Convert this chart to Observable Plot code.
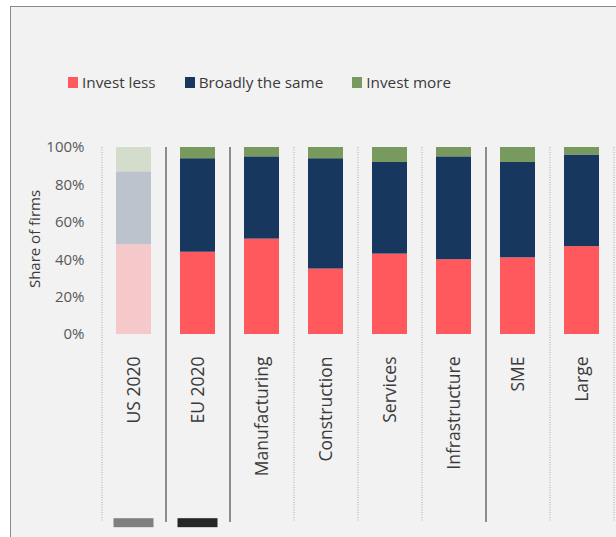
<!DOCTYPE html>
<html>
<head>
<meta charset="utf-8">
<script src="https://cdn.jsdelivr.net/npm/d3@7"></script>
<script src="https://cdn.jsdelivr.net/npm/@observablehq/plot@0.6"></script>
<style>
  html, body { margin: 0; padding: 0; background: #ffffff; overflow: hidden; width: 616px; height: 537px; }
  #frame { position: absolute; left: 10px; top: 6px; width: 700px; height: 600px;
           border-left: 1px solid #8a8a8a; border-top: 1px solid #8a8a8a; background: #f2f2f2; }
  #legend { position: absolute; left: 68px; top: 72px; display: flex; align-items: center;
            font-family: "Open Sans", sans-serif; font-size: 15.3px; color: #3a3a3a; line-height: 20px; }
  .item { display: flex; align-items: center; margin-right: 29px; }
  .sw { width: 10px; height: 11px; margin-right: 4px; }
  #chart { position: absolute; left: 0; top: 100px; }
</style>
</head>
<body>
<div id="frame"></div>
<div id="legend"></div>
<div id="chart"></div>
<script>
const categories = ["US 2020", "EU 2020", "Manufacturing", "Construction", "Services", "Infrastructure", "SME", "Large"];
const series = ["Invest less", "Broadly the same", "Invest more"];
const investLess  = [48, 44, 51, 35, 43, 40, 41, 47];
const broadlySame = [39, 50, 44, 59, 49, 55, 51, 49];
const investMore  = [13, 6, 5, 6, 8, 5, 8, 4];
const colors      = ["#ff595e", "#17375e", "#789a5f"];
const fadedColors = ["#f5c8ca", "#bcc3cd", "#d4ddcc"];
const yTicks = [0, 20, 40, 60, 80, 100];
const yLabel = "Share of firms";
// boundary lines: left edge of each category slot, plus right edge of last
const dottedLeft = ["US 2020", "Construction", "Services", "Infrastructure", "Large"];
const solidLeft  = ["EU 2020", "Manufacturing", "SME"];
const dottedRight = ["Large"];
const markerCats = ["US 2020", "EU 2020"];
const markerColors = ["#808080", "#262626"];

const values = [investLess, broadlySame, investMore];
const table = [];
categories.forEach((c, i) => {
  series.forEach((s, j) => {
    table.push({category: c, series: s, value: values[j][i], fill: i === 0 ? fadedColors[j] : colors[j]});
  });
});
const markers = markerCats.map((c, i) => ({category: c, color: markerColors[i]}));

// legend
const legend = document.getElementById("legend");
series.forEach((s, j) => {
  const it = document.createElement("div");
  it.className = "item";
  it.innerHTML = `<div class="sw" style="background:${colors[j]}"></div><span>${s}</span>`;
  legend.appendChild(it);
});

const W = 616, H = 437, ML = 102, MR = 2, MT = 47, MB = 203;
const step = (W - ML - MR) / categories.length;

const chart = Plot.plot({
  width: W, height: H,
  marginLeft: ML, marginRight: MR, marginTop: MT, marginBottom: MB,
  style: {fontFamily: "Open Sans, sans-serif", background: "transparent", overflow: "visible"},
  x: {domain: categories, paddingInner: 0.45, paddingOuter: 0.225, axis: null},
  y: {domain: [0, 100], axis: null},
  marks: [
    Plot.ruleX(dottedLeft, {x: d => d, dx: -step / 2, y1: 100, y2: -100.5, stroke: "#a8a8a8", strokeWidth: 1, strokeDasharray: "1,1.5"}),
    Plot.ruleX(dottedRight, {x: d => d, dx: step / 2, y1: 100, y2: -100.5, stroke: "#a8a8a8", strokeWidth: 1, strokeDasharray: "1,1.5"}),
    Plot.ruleX(solidLeft, {x: d => d, dx: -step / 2, y1: 100, y2: -100.5, stroke: "#8c8c8c", strokeWidth: 2}),
    Plot.barY(table, {x: "category", y: "value", fill: "fill"}),
    Plot.barY(markers, {x: "category", y1: -98.5, y2: -103.3, fill: "color", insetLeft: -2.5, insetRight: -2.5}),
    Plot.axisX({tickSize: 0, tickRotate: -90, tickPadding: 22, fontSize: 17.5, color: "#3a3a3a", label: null}),
    Plot.axisY({ticks: yTicks, tickFormat: d => d + "%", tickSize: 0, tickPadding: 18, fontSize: 15, color: "#595959", label: null}),
    Plot.text([yLabel], {text: d => d, frameAnchor: "left", textAnchor: "middle", lineAnchor: "middle", rotate: -90, dx: -67, dy: -2, fontSize: 15, fill: "#3a3a3a"})
  ]
});
document.getElementById("chart").appendChild(chart);
</script>
</body>
</html>
